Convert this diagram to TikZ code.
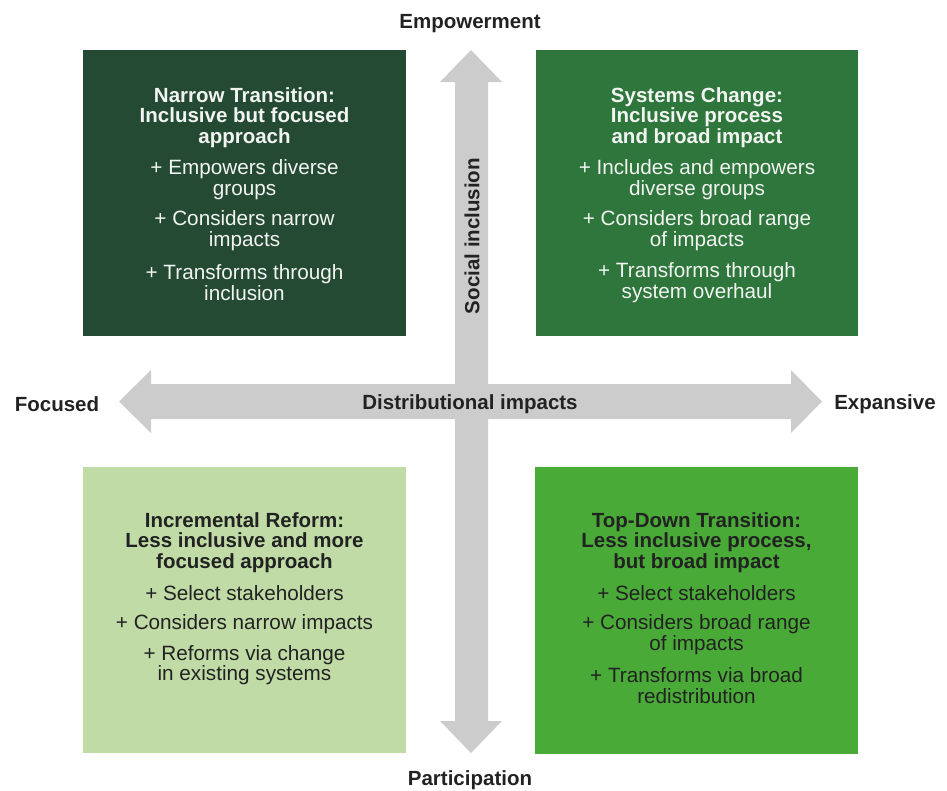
\documentclass[tikz,border=0pt]{standalone}
\usepackage{fontspec}
\setmainfont{Liberation Sans}
\definecolor{deepgreen}{HTML}{244A33}
\definecolor{midgreen}{HTML}{2E763C}
\definecolor{palegreen}{HTML}{C0DBA6}
\definecolor{brightgreen}{HTML}{4AAA38}
\definecolor{axisgray}{HTML}{CCCCCC}
\definecolor{inkdark}{HTML}{222222}
\definecolor{softwhite}{HTML}{F2F4F2}
\begin{document}
\begin{tikzpicture}[x=1pt,y=-1pt,
  head/.style={font=\bfseries\fontsize{20.5}{20.5}\selectfont,align=center,inner sep=0pt},
  item/.style={font=\fontsize{20.7}{20.5}\selectfont,align=center,inner sep=0pt},
  axislabel/.style={font=\bfseries\fontsize{20.5}{20}\selectfont,text=inkdark,inner sep=0pt},
  onDark/.style={text=softwhite},
  onLight/.style={text=inkdark}]
\useasboundingbox (0,0) rectangle (947,790);

% quadrant panels
\fill[deepgreen]   (83,50)  rectangle (406,336);
\fill[midgreen]    (536,50) rectangle (858,336);
\fill[palegreen]   (83,467) rectangle (406,753);
\fill[brightgreen] (535,467) rectangle (858,754);

% axes as solid double-headed arrows
\fill[axisgray] (471,50) -- (502,82) -- (488,82) -- (488,721) -- (502,721)
  -- (471,753) -- (440,721) -- (455,721) -- (455,82) -- (440,82) -- cycle;
\fill[axisgray] (119,401.5) -- (151,370) -- (151,384) -- (791,384) -- (791,370)
  -- (822,401.5) -- (791,433) -- (791,419) -- (151,419) -- (151,433) -- cycle;

% axis labels
\node[axislabel] (up)    at (470,24)  {Empowerment};
\node[axislabel] (down)  at (470,780) {Participation};
\node[axislabel] (left)  at (57,404)  {Focused};
\node[axislabel] (right) at (885,404) {Expansive};
\node[axislabel] (hax)   at (470,404) {Distributional impacts};
\node[axislabel,rotate=90] (vax) at (472,236) {Social inclusion};

% top-left panel
\node[head,onDark] (nt) at (244.5,117.5) {Narrow Transition:\\Inclusive but focused\\approach};
\node[item,onDark] (nt1) at (244.5,179.5) {+ Empowers diverse\\groups};
\node[item,onDark] (nt2) at (244.5,230.5) {+ Considers narrow\\impacts};
\node[item,onDark] (nt3) at (244.5,282.5) {+ Transforms through\\inclusion};

% top-right panel
\node[head,onDark] (sc) at (697,117.5) {Systems Change:\\Inclusive process\\and broad impact};
\node[item,onDark] (sc1) at (697,179.5) {+ Includes and empowers\\diverse groups};
\node[item,onDark] (sc2) at (697,230.5) {+ Considers broad range\\of impacts};
\node[item,onDark] (sc3) at (697,282.5) {+ Transforms through\\system overhaul};

% bottom-left panel
\node[head,onLight] (ir) at (244.5,542.5) {Incremental Reform:\\Less inclusive and more\\focused approach};
\node[item,onLight] (ir1) at (244.5,593.5) {+ Select stakeholders};
\node[item,onLight] (ir2) at (244.5,624.5) {+ Considers narrow impacts};
\node[item,onLight] (ir3) at (244.5,665) {+ Reforms via change\\in existing systems};

% bottom-right panel
\node[head,onLight] (td) at (696.5,542.5) {Top-Down Transition:\\Less inclusive process,\\but broad impact};
\node[item,onLight] (td1) at (696.5,593.5) {+ Select stakeholders};
\node[item,onLight] (td2) at (696.5,634.5) {+ Considers broad range\\of impacts};
\node[item,onLight] (td3) at (696.5,685.5) {+ Transforms via broad\\redistribution};
\end{tikzpicture}
\end{document}
